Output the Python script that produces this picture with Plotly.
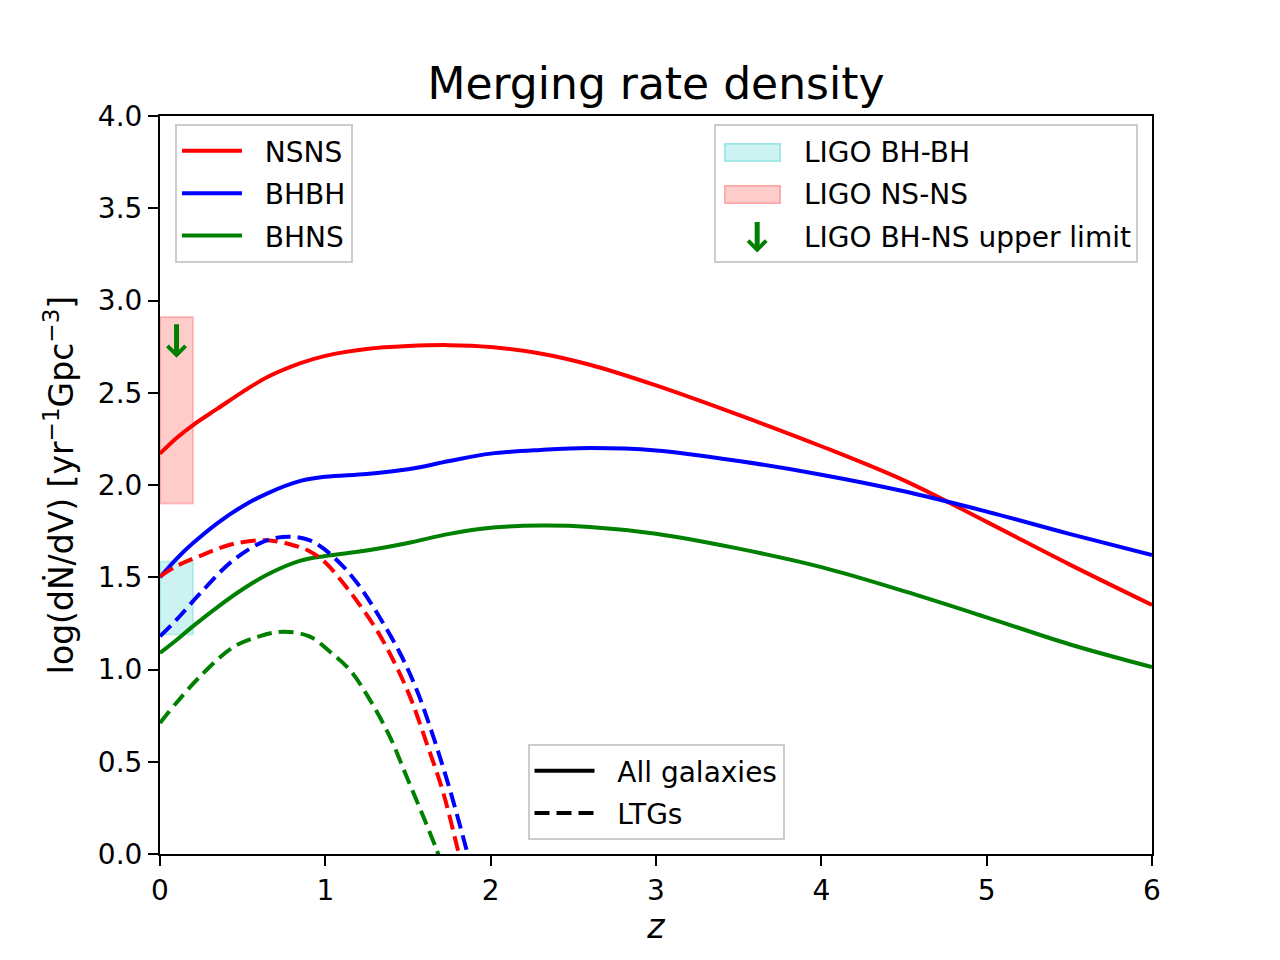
import plotly.graph_objects as go

# merging rate density, log10 [yr^-1 Gpc^-3]
z_all = [0, 0.1, 0.2, 0.35, 0.5, 0.65, 0.85, 1.0, 1.25, 1.5, 1.75, 2.0,
         2.3, 2.6, 3.0, 3.5, 4.0, 4.5, 5.0, 5.5, 6.0]
nsns_all = [2.17, 2.255, 2.325, 2.415, 2.505, 2.585, 2.66, 2.70, 2.737, 2.753, 2.758, 2.748,
            2.713, 2.652, 2.54, 2.38, 2.21, 2.025, 1.80, 1.57, 1.35]
bhbh_all = [1.50, 1.60, 1.685, 1.795, 1.885, 1.955, 2.022, 2.045, 2.06, 2.085, 2.13, 2.17,
            2.19, 2.20, 2.187, 2.13, 2.056, 1.966, 1.856, 1.735, 1.62]
bhns_all = [1.09, 1.16, 1.235, 1.34, 1.435, 1.515, 1.59, 1.615, 1.645, 1.686, 1.735, 1.768,
            1.78, 1.773, 1.736, 1.655, 1.555, 1.425, 1.283, 1.137, 1.013]

# late-type galaxies only (dashed)
z_nsns_ltg = [0, 0.1, 0.24, 0.44, 0.645, 0.8, 0.907, 1.0, 1.109, 1.2, 1.31, 1.411,
              1.512, 1.613, 1.714, 1.805, 1.85]
nsns_ltg = [1.505, 1.56, 1.615, 1.68, 1.70, 1.675, 1.64, 1.58, 1.467, 1.36, 1.215, 1.05,
            0.853, 0.60, 0.33, 0.01, -0.15]
z_bhbh_ltg = [0, 0.1, 0.24, 0.44, 0.645, 0.79, 0.907, 0.99, 1.109, 1.2, 1.31, 1.452,
              1.553, 1.653, 1.754, 1.855, 1.9]
bhbh_ltg = [1.18, 1.27, 1.41, 1.59, 1.70, 1.72, 1.70, 1.655, 1.557, 1.46, 1.31, 1.088,
            0.889, 0.636, 0.347, 0.02, -0.13]
z_bhns_ltg = [0, 0.1, 0.24, 0.44, 0.6, 0.745, 0.907, 1.028, 1.149, 1.27, 1.39, 1.492,
              1.593, 1.67, 1.71]
bhns_ltg = [0.71, 0.82, 0.96, 1.12, 1.18, 1.205, 1.178, 1.096, 0.997, 0.835, 0.636, 0.419,
            0.202, 0.03, -0.07]

# LIGO constraints at low z
ligo_z = [0, 0.2]
ligo_bhbh = [1.19, 1.585]
ligo_nsns = [1.9, 2.91]
ligo_bhns_z = 0.1
ligo_bhns_top = 2.88
ligo_bhns_tip = 2.69

RED, BLUE, GREEN = '#ff0000', '#0000ff', '#008000'
CYAN_A, RED_A = 'rgba(0,191,191,0.2)', 'rgba(255,0,0,0.2)'
DASH = '15px,7px'
PAD = '\u00a0\u00a0'  # push legend text away from the symbol like matplotlib

fig = go.Figure()


def box(z, lims, color):
    return go.Scatter(x=[z[0], z[1], z[1], z[0], z[0]],
                      y=[lims[0], lims[0], lims[1], lims[1], lims[0]],
                      mode='lines', fill='toself', fillcolor=color,
                      line=dict(color=color, width=2), showlegend=False,
                      hoverinfo='skip')


fig.add_trace(box(ligo_z, ligo_bhbh, CYAN_A))
fig.add_trace(box(ligo_z, ligo_nsns, RED_A))

# legend 2 entries: symbols are drawn on top as annotations below
for i, name in enumerate(['LIGO BH-BH', 'LIGO NS-NS', 'LIGO BH-NS upper limit']):
    fig.add_trace(go.Scatter(x=[None], y=[None], mode='markers', name=PAD + name,
                             marker=dict(color='rgba(0,0,0,0)', size=2), legend='legend2',
                             legendgroup='l2_%d' % i))

for name, y, c in [('NSNS', nsns_all, RED), ('BHBH', bhbh_all, BLUE), ('BHNS', bhns_all, GREEN)]:
    fig.add_trace(go.Scatter(x=z_all, y=y, mode='lines', name=PAD + name,
                             line=dict(color=c, width=4, shape='spline', smoothing=1.0),
                             legend='legend', legendgroup='l1_' + name))

for x, y, c in [(z_nsns_ltg, nsns_ltg, RED), (z_bhbh_ltg, bhbh_ltg, BLUE),
                (z_bhns_ltg, bhns_ltg, GREEN)]:
    fig.add_trace(go.Scatter(x=x, y=y, mode='lines', showlegend=False,
                             line=dict(color=c, width=4, dash=DASH, shape='spline',
                                       smoothing=1.0)))

fig.add_trace(go.Scatter(x=[None], y=[None], mode='lines', name=PAD + 'All galaxies',
                         line=dict(color='black', width=4), legend='legend3',
                         legendgroup='l3_0'))
fig.add_trace(go.Scatter(x=[None], y=[None], mode='lines', name=PAD + 'LTGs',
                         line=dict(color='black', width=4, dash=DASH), legend='legend3',
                         legendgroup='l3_1'))

# upper limit arrow in the plot
fig.add_annotation(x=ligo_bhns_z, y=ligo_bhns_tip, ax=ligo_bhns_z, ay=ligo_bhns_top,
                   xref='x', yref='y', axref='x', ayref='y', text='', showarrow=True,
                   arrowhead=4, arrowwidth=5, arrowsize=0.7, arrowcolor=GREEN)
# legend 2 symbols: two patches and the arrow
for yc, fc, ec in [(0.9512, CYAN_A, 'rgba(0,191,191,0.35)'), (0.8943, RED_A, 'rgba(255,0,0,0.3)')]:
    fig.add_annotation(x=0.5968, y=yc, xref='paper', yref='paper', text='', showarrow=False,
                       width=54, height=16, borderpad=0, bgcolor=fc, bordercolor=ec,
                       borderwidth=1.5, xanchor='center', yanchor='middle')
fig.add_annotation(x=0.602, y=0.815, xref='paper', yref='paper', ax=0, ay=-32,
                   text='', showarrow=True, arrowhead=4, arrowwidth=5, arrowsize=0.7,
                   arrowcolor=GREEN)

legend_style = dict(bgcolor='rgba(255,255,255,0.8)', bordercolor='#cccccc', borderwidth=2,
                    font=dict(size=28), itemwidth=60, tracegroupgap=3)
axis_style = dict(showline=True, linecolor='black', linewidth=2, mirror=True,
                  ticks='outside', ticklen=10, tickwidth=2, tickcolor='black',
                  showgrid=False, zeroline=False, tickfont=dict(size=28))

# page body adds an 8px offset, so the figure is 8px smaller than the window
fig.update_layout(
    width=1272, height=952,
    margin=dict(l=152, r=128, t=108, b=106),
    paper_bgcolor='white', plot_bgcolor='white',
    font=dict(family='DejaVu Sans', size=28, color='black'),
    title=dict(text='Merging rate density', x=0.5, xref='paper', xanchor='center',
               y=1 - 76 / 952, yref='container', yanchor='middle', font=dict(size=44)),
    xaxis=dict(range=[0, 6], tickvals=[0, 1, 2, 3, 4, 5, 6],
               title=dict(text='<i>z</i>', font=dict(size=33), standoff=8), **axis_style),
    yaxis=dict(range=[0, 4], tick0=0, dtick=0.5, tickformat='.1f',
               title=dict(text='log(dṄ/dV) [yr<sup>−1</sup>Gpc<sup>−3</sup>]',
                          font=dict(size=33), standoff=14), **axis_style),
    legend=dict(x=0.0151, y=0.989, xanchor='left', yanchor='top', **legend_style),
    legend2=dict(x=0.986, y=0.989, xanchor='right', yanchor='top', **legend_style),
    legend3=dict(x=0.5, y=0.019, xanchor='center', yanchor='bottom', **legend_style),
    showlegend=True,
)

fig.write_html('out.html')
